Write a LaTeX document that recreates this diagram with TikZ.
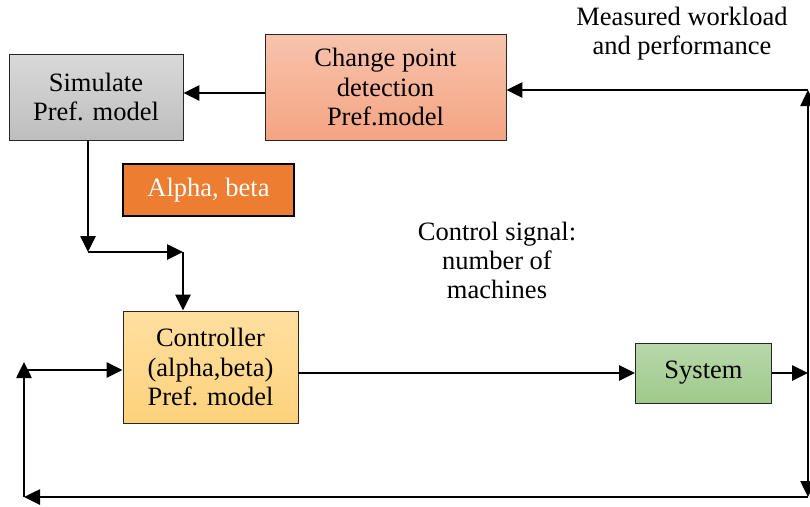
\documentclass[tikz,border=0pt]{standalone}
\usepackage{fontspec}
\setmainfont{Liberation Serif}
\usetikzlibrary{arrows.meta,shadows}
\definecolor{simtop}{HTML}{D9D9D9}
\definecolor{simbot}{HTML}{BEBEBE}
\definecolor{cpdtop}{HTML}{F8C3AD}
\definecolor{cpdbot}{HTML}{F4A482}
\definecolor{abfill}{HTML}{ED7D31}
\definecolor{ctltop}{HTML}{FFDFA0}
\definecolor{ctlbot}{HTML}{FED27C}
\definecolor{systop}{HTML}{B8D8AA}
\definecolor{sysbot}{HTML}{9FC98A}
\tikzset{
  box/.style={draw=black!85, line width=0.9pt, align=center, inner sep=0pt,
    font=\fontsize{26.5}{29.5}\selectfont},
  tip/.style={Triangle[length=16pt,width=15pt]},
  arr/.style={line width=2.6pt, -{Triangle[length=16pt,width=15pt]}},
  lbl/.style={align=center, font=\fontsize{26.5}{29}\selectfont}
}
\begin{document}
\begin{tikzpicture}[x=1pt,y=-1pt]
\useasboundingbox (0,0) rectangle (810,506);
% boxes
\node[box, top color=simtop, bottom color=simbot, minimum width=174pt, minimum height=86pt]
  (sim) at (96,97) {Simulate\\Pref. model};
\node[box, top color=cpdtop, bottom color=cpdbot, minimum width=241pt, minimum height=106pt]
  (cpd) at (385.5,87) {Change point\\detection\\Pref.model};
\node[box, fill=abfill, draw=black, line width=1.8pt, text=white, minimum width=171pt, minimum height=52pt]
  (ab) at (208.5,190) {Alpha, beta};
\node[box, top color=ctltop, bottom color=ctlbot, minimum width=175pt, minimum height=112pt]
  (ctrl) at (210.5,367) {Controller\\(alpha,beta)\\Pref. model};
\node[box, top color=systop, bottom color=sysbot, minimum width=136pt, minimum height=60pt]
  (sys) at (703.5,373) {System};
% labels
\node[lbl] (meas) at (682,34) {Measured workload\\and performance};
\node[lbl] (ctlsig) at (497,260) {Control signal:\\number of\\machines};
% helper coordinates
\coordinate (rtop) at (808,90);
\coordinate (rbot) at (808,497);
\coordinate (lbot) at (24,497);
\coordinate (lmid) at (24,370);
\coordinate (bend1) at (88,252);
\coordinate (bend2) at (183,252);
\coordinate (sysout) at (808,372);
\coordinate (p93) at (0,93);
% connectors
\draw[arr] (cpd.west |- p93) -- (sim.east |- p93);
\draw[arr] (rtop) -- (cpd.east |- rtop);
\draw[line width=2.6pt, {Triangle[length=16pt,width=15pt]}-{Triangle[length=16pt,width=15pt]}] (rtop) -- (rbot);
\draw[arr] (rbot) -- (lbot);
\draw[arr] (lbot) -- ([yshift=8pt]lmid);
\draw[arr] (lmid) -- (ctrl.west |- lmid);
\draw[arr] (ctrl.east |- sys.west) -- (sys.west);
\draw[arr] (sys.east) -- (sysout |- sys.east);
\draw[arr] (sim.south -| bend1) -- (bend1);
\draw[arr] (bend1) -- (bend2);
\draw[arr] (bend2) -- (bend2 |- ctrl.north);
\end{tikzpicture}
\end{document}
